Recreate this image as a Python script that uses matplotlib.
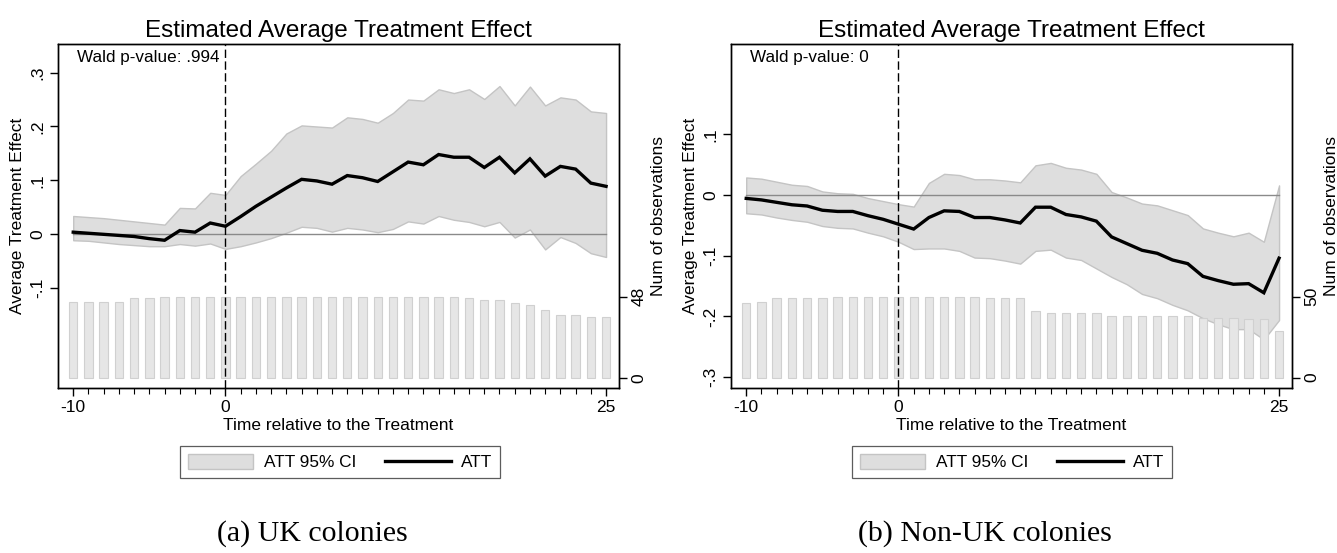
import matplotlib.pyplot as plt
from matplotlib.patches import Patch
from matplotlib.lines import Line2D

plt.rcParams['font.family'] = ['Liberation Sans', 'DejaVu Sans']
plt.rcParams['axes.unicode_minus'] = False

# event time (relative to treatment)
periods = list(range(-10, 26))

# (a) UK colonies
uk_att = [0.004, 0.002, 0.000, -0.002, -0.004, -0.008, -0.011, 0.007, 0.004, 0.021,
          0.015, 0.033, 0.052, 0.069, 0.086, 0.102, 0.099, 0.093, 0.109, 0.105,
          0.098, 0.116, 0.134, 0.129, 0.148, 0.143, 0.143, 0.124, 0.143, 0.114,
          0.140, 0.108, 0.126, 0.121, 0.095, 0.089]
uk_hi = [0.034, 0.032, 0.030, 0.027, 0.024, 0.021, 0.018, 0.049, 0.048, 0.077,
         0.073, 0.108, 0.131, 0.155, 0.187, 0.202, 0.200, 0.198, 0.217, 0.214,
         0.207, 0.225, 0.250, 0.248, 0.269, 0.262, 0.269, 0.251, 0.275, 0.239,
         0.274, 0.239, 0.254, 0.250, 0.228, 0.225]
uk_lo = [-0.011, -0.012, -0.015, -0.018, -0.020, -0.022, -0.022, -0.018, -0.021, -0.017,
         -0.027, -0.022, -0.015, -0.007, 0.003, 0.014, 0.012, 0.005, 0.012, 0.009,
         0.004, 0.010, 0.024, 0.020, 0.034, 0.027, 0.023, 0.015, 0.023, -0.006,
         0.009, -0.028, -0.005, -0.016, -0.035, -0.042]
uk_obs = [45, 45, 45, 45, 47, 47, 48, 48, 48, 48,
          48, 48, 48, 48, 48, 48, 48, 48, 48, 48,
          48, 48, 48, 48, 48, 48, 47, 46, 46, 44,
          43, 40, 37, 37, 36, 36]

# (b) Non-UK colonies
nuk_att = [-0.0055, -0.008, -0.012, -0.016, -0.018, -0.025, -0.027, -0.027, -0.034, -0.040,
           -0.048, -0.056, -0.037, -0.026, -0.027, -0.037, -0.037, -0.041, -0.046, -0.020,
           -0.020, -0.032, -0.036, -0.043, -0.069, -0.080, -0.091, -0.096, -0.107, -0.113,
           -0.134, -0.141, -0.147, -0.146, -0.161, -0.104]
nuk_hi = [0.029, 0.027, 0.022, 0.017, 0.015, 0.006, 0.003, 0.002, -0.005, -0.010,
          -0.015, -0.019, 0.020, 0.035, 0.033, 0.026, 0.026, 0.024, 0.021, 0.049,
          0.053, 0.045, 0.042, 0.035, 0.005, -0.004, -0.014, -0.017, -0.025, -0.033,
          -0.055, -0.062, -0.068, -0.062, -0.077, 0.016]
nuk_lo = [-0.030, -0.032, -0.037, -0.041, -0.044, -0.051, -0.054, -0.055, -0.062, -0.068,
          -0.077, -0.089, -0.088, -0.088, -0.092, -0.103, -0.104, -0.108, -0.113, -0.092,
          -0.090, -0.103, -0.107, -0.121, -0.135, -0.147, -0.163, -0.170, -0.181, -0.190,
          -0.203, -0.213, -0.221, -0.221, -0.238, -0.206]
nuk_obs = [46, 47, 49, 49, 49, 49, 50, 50, 50, 50,
           50, 50, 50, 50, 50, 50, 49, 49, 49, 41,
           40, 40, 40, 40, 38, 38, 38, 38, 38, 38,
           37, 37, 37, 36, 36, 29]

uk_yticks = [0.3, 0.2, 0.1, 0, -0.1]
uk_ylabels = ['.3', '.2', '.1', '0', '-.1']
nuk_yticks = [0.1, 0, -0.1, -0.2, -0.3]
nuk_ylabels = ['.1', '0', '-.1', '-.2', '-.3']

W, H = 1337, 553
fig = plt.figure(figsize=(W / 100, H / 100), dpi=100)

FS = 12.5
CI_FILL = '#dedede'
CI_EDGE = '#c4c4c4'


def panel(left_px, att, lo, hi, obs, ylim, ylim2, yticks, ylabels, wald,
          caption, cap_x, leg_x):
    ax = fig.add_axes([left_px / W, (H - 388) / H, 561 / W, 344 / H])
    ax2 = ax.twinx()
    ax.set_zorder(ax2.get_zorder() + 1)
    ax.patch.set_visible(False)
    ax2.set_ylim(*ylim2)

    ax.fill_between(periods, lo, hi, facecolor=CI_FILL, edgecolor=CI_EDGE,
                    linewidth=1, zorder=1)
    # number of observations, drawn in the secondary axis' scale
    ax.bar(periods, obs, width=0.55, color='#e6e6e6', edgecolor='#d0d0d0',
           linewidth=0.8, transform=ax2.transData, zorder=1.5)
    ax.plot([periods[0], periods[-1]], [0, 0], color='#8a8a8a', lw=1, zorder=2)
    ax.axvline(0, color='black', lw=1, dashes=(6, 2.5), zorder=2.5)
    ax.plot(periods, att, color='black', lw=2.4, solid_joinstyle='miter', zorder=3)

    ax2.set_yticks([0, max(obs)])
    ax2.set_yticklabels(['0', str(max(obs))], rotation=90, va='center', fontsize=FS)
    ax2.set_ylabel('Num of observations', fontsize=FS, labelpad=3)
    ax2.tick_params(axis='y', length=6, width=1, pad=3)

    ax.set_xlim(-11, 25.85)
    ax.set_ylim(*ylim)
    ax.set_xticks([-10, 0, 25])
    ax.set_xticks(periods, minor=True)
    ax.set_yticks(yticks)
    ax.set_yticklabels(ylabels, rotation=90, va='center', fontsize=FS)
    ax.tick_params(axis='x', which='major', length=6, width=1, pad=3, labelsize=FS)
    ax.tick_params(axis='x', which='minor', length=4, width=0.8)
    ax.tick_params(axis='y', length=6, width=1, pad=3)
    for a in (ax, ax2):
        for s in a.spines.values():
            s.set_linewidth(1)

    ax.set_xlabel('Time relative to the Treatment', fontsize=FS, labelpad=2)
    ax.set_ylabel('Average Treatment Effect', fontsize=FS, labelpad=4)
    ax.set_title('Estimated Average Treatment Effect', fontsize=17.5, pad=5)
    ax.text(0.034, 0.962, wald, transform=ax.transAxes, fontsize=12.3,
            ha='left', va='center')

    handles = [Patch(facecolor=CI_FILL, edgecolor=CI_EDGE, linewidth=1),
               Line2D([], [], color='black', lw=2.4)]
    leg = ax.legend(handles, ['ATT 95% CI', 'ATT'], loc='center',
                    bbox_to_anchor=(leg_x / W, (H - 462) / H),
                    bbox_transform=fig.transFigure,
                    ncol=2, fontsize=12.4, frameon=True, fancybox=False,
                    handlelength=3.8, handleheight=1.0, columnspacing=1.7,
                    borderpad=0.45, handletextpad=0.6)
    leg.get_frame().set_edgecolor('#333333')
    leg.get_frame().set_linewidth(0.9)

    fig.text(cap_x / W, (H - 534) / H, caption,
             family=['Liberation Serif', 'DejaVu Serif'], fontsize=21.5,
             ha='center', va='center')
    return ax


panel(58, uk_att, uk_lo, uk_hi, uk_obs, (-0.285, 0.353), (-6.1, 197.7),
      uk_yticks, uk_ylabels, 'Wald p-value: .994', '(a) UK colonies', 312, 340)
panel(731, nuk_att, nuk_lo, nuk_hi, nuk_obs, (-0.318, 0.249), (-6.4, 206),
      nuk_yticks, nuk_ylabels, 'Wald p-value: 0', '(b) Non-UK colonies', 985, 1012)

fig.savefig('out.png', dpi=100)
